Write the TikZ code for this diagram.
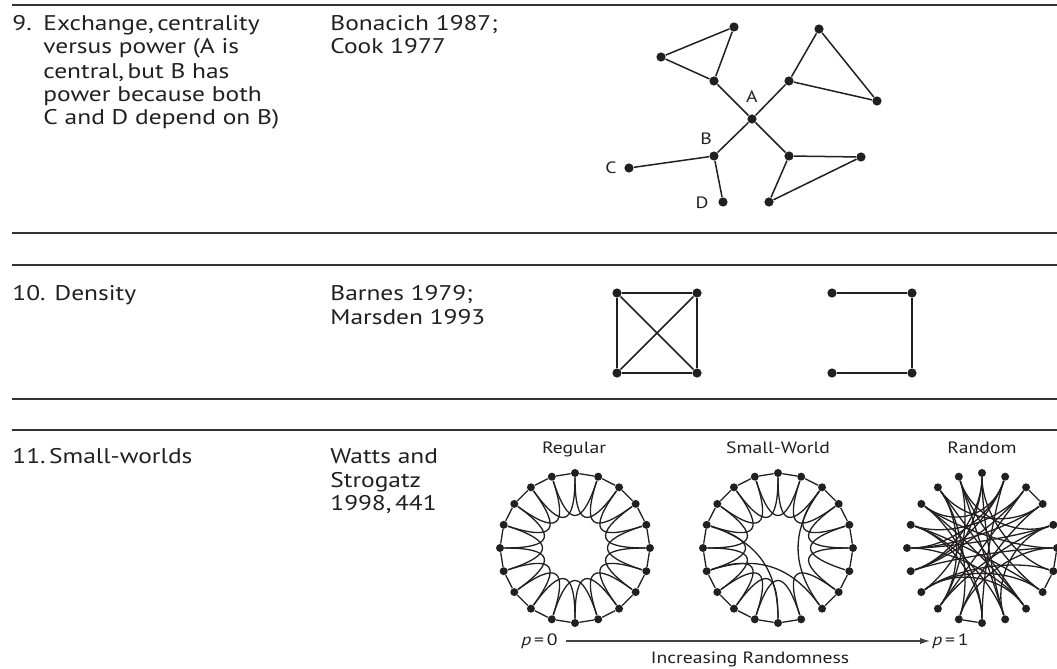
\documentclass[tikz,border=0pt]{standalone}
\usepackage{fontspec}
\setmainfont{PT Sans}[FakeStretch=1.2]
\usetikzlibrary{arrows.meta}
\definecolor{ink}{HTML}{231F20}
\definecolor{rulegray}{HTML}{333333}

% curved edge between two nodes of a ring graph, pulled toward the centre
\newcommand\ringcurve[5]{% #1 prefix, #2 centre x, #3 from, #4 to, #5 control radius
  \pgfmathsetmacro\ArcA{90-18*#3}%
  \pgfmathsetmacro\ArcB{90-18*#4}%
  \draw[swedge] (#1#3) .. controls ({#2+#5*cos(\ArcA)},{548-#5*sin(\ArcA)})
     and ({#2+#5*cos(\ArcB)},{548-#5*sin(\ArcB)}) .. (#1#4);}

\begin{document}
\begin{tikzpicture}[x=0.5pt,y=-0.5pt,
  every node/.style={text=ink},
  txt/.style={font=\fontsize{10.6}{12}\selectfont, anchor=base west, inner sep=0},
  lbl/.style={font=\fontsize{8.2}{10}\selectfont, inner sep=0},
  bigdot/.style={circle, fill=ink, inner sep=0, minimum size=4.6pt},
  swdot/.style={circle, fill=ink, inner sep=0, minimum size=4pt},
  edgeline/.style={draw=ink, line width=0.75pt},
  swedge/.style={draw=ink, line width=0.65pt},
  sep/.style={draw=rulegray, line width=1.3pt}]
\useasboundingbox (0,0) rectangle (1057,669);
\clip (0,0) rectangle (1057,669);

% horizontal rules
\draw[sep] (12,5) -- (1057,5);
\draw[sep] (12,233) -- (1057,233);
\draw[sep] (12,265) -- (1057,265);
\draw[sep] (12,399) -- (1057,399);
\draw[sep] (12,430) -- (1057,430);

% ---- row 9 text
\node[txt] (n9) at (12,31) {9.};
\node[txt] (n9a) at (43,31) {Exchange,\,centrality};
\node[txt] (n9b) at (43,54) {versus power (A is};
\node[txt] (n9c) at (43,78) {central,\,but B has};
\node[txt] (n9d) at (43,101) {power because both};
\node[txt] (n9e) at (43,124) {C and D depend on B)};
\node[txt] (r9a) at (330,31) {Bonacich 1987;};
\node[txt] (r9b) at (330,54) {Cook 1977};

% ---- row 9 graph
\node[bigdot] (t1l) at (661,57) {};
\node[bigdot] (t1t) at (734,27) {};
\node[bigdot] (t1b) at (714,81) {};
\node[bigdot] (A) at (752,119) {};
\node[bigdot] (t2b) at (789,81) {};
\node[bigdot] (t2t) at (819,29) {};
\node[bigdot] (t2r) at (877,101) {};
\node[bigdot] (B) at (714,156) {};
\node[bigdot] (C) at (629,168) {};
\node[bigdot] (D) at (723,202) {};
\node[bigdot] (t3l) at (789,156) {};
\node[bigdot] (t3r) at (861,157) {};
\node[bigdot] (t3b) at (769,202) {};
\node[lbl] (labA) at (752,97) {A};
\node[lbl] (labB) at (706,139) {B};
\node[lbl] (labC) at (611,168) {C};
\node[lbl] (labD) at (702,203) {D};
\draw[edgeline] (t1l) -- (t1t) -- (t1b) -- (t1l);
\draw[edgeline] (t1b) -- (A);
\draw[edgeline] (A) -- (t2b);
\draw[edgeline] (t2b) -- (t2t) -- (t2r) -- (t2b);
\draw[edgeline] (A) -- (B);
\draw[edgeline] (A) -- (t3l);
\draw[edgeline] (t3l) -- (t3r) -- (t3b) -- (t3l);
\draw[edgeline] (B) -- (C);
\draw[edgeline] (B) -- (D);

% ---- row 10
\node[txt] (n10) at (12,300) {10. Density};
\node[txt] (r10a) at (330,300) {Barnes 1979;};
\node[txt] (r10b) at (330,324) {Marsden 1993};
\node[bigdot] (k1) at (617,293) {};
\node[bigdot] (k2) at (697,293) {};
\node[bigdot] (k3) at (617,373) {};
\node[bigdot] (k4) at (697,373) {};
\draw[edgeline] (k1) -- (k2) -- (k4) -- (k3) -- (k1);
\draw[edgeline] (k1) -- (k4);
\draw[edgeline] (k2) -- (k3);
\node[bigdot] (d1) at (832,293) {};
\node[bigdot] (d2) at (912,293) {};
\node[bigdot] (d3) at (912,373) {};
\node[bigdot] (d4) at (832,373) {};
\draw[edgeline] (d1) -- (d2) -- (d3) -- (d4);

% ---- row 11
\node[txt] (n11) at (12,463) {11.\,Small-worlds};
\node[txt] (r11a) at (330,463) {Watts and};
\node[txt] (r11b) at (330,487) {Strogatz};
\node[txt] (r11c) at (330,510) {1998,\,441};

\node[lbl, anchor=base] (hreg) at (574,453) {Regular};
\node[lbl, anchor=base] (hsw) at (778,453) {Small-World};
\node[lbl, anchor=base] (hrnd) at (982,453) {Random};

\foreach \k in {0,...,19}{
  \pgfmathsetmacro\ang{90-18*\k}
  \node[swdot] (g\k) at ({575+75*cos(\ang)},{548-75*sin(\ang)}) {};
  \node[swdot] (s\k) at ({778+75*cos(\ang)},{548-75*sin(\ang)}) {};
  \node[swdot] (q\k) at ({982+75*cos(\ang)},{548-75*sin(\ang)}) {};
}

% regular ring lattice
\foreach \k in {0,...,19}{
  \pgfmathtruncatemacro\n{mod(\k+1,20)}
  \pgfmathtruncatemacro\m{mod(\k+2,20)}
  \draw[swedge] (g\k) -- (g\n);
  \ringcurve{g}{575}{\k}{\m}{22}
}

% small-world: lattice with a few rewired edges
\foreach \k in {0,...,19}{
  \pgfmathtruncatemacro\n{mod(\k+1,20)}
  \pgfmathtruncatemacro\m{mod(\k+2,20)}
  \ifnum\k=8 \else \draw[swedge] (s\k) -- (s\n); \fi
  \ifnum\k=6 \else\ifnum\k=8 \else \ringcurve{s}{778}{\k}{\m}{22}\fi\fi
}
\ringcurve{s}{778}{16}{10}{22}
\ringcurve{s}{778}{14}{8}{22}
\ringcurve{s}{778}{2}{8}{22}

% random graph
\foreach \i/\j in {2/3,5/6,6/7,10/11}{\draw[swedge] (q\i) -- (q\j);}
\foreach \i/\j in {0/9,0/13,0/6,0/14,1/10,1/14,1/17,1/15,2/12,2/16,2/14,
  3/11,3/15,3/18,4/12,4/15,4/19,4/9,5/14,5/17,5/11,6/13,7/16,7/13,7/19,
  8/15,8/18,8/13,8/17,9/16,9/19,10/17,10/16,11/18,12/18,12/19}{
  \ringcurve{q}{982}{\i}{\j}{34}
}

% rewiring probability axis
\node[lbl, anchor=east] (p0) at (558,641) {\textit{p}\,=\,0};
\node[lbl, anchor=west] (p1) at (932,641) {\textit{p}\,=\,1};
\draw[draw=ink!85, line width=0.6pt, shorten <=4pt, shorten >=1pt,
  -{Latex[length=5pt,width=3.2pt]}] (p0.east) -- (p1.west);
\node[lbl, anchor=base] (incr) at (750,663) {Increasing Randomness};
\end{tikzpicture}
\end{document}
